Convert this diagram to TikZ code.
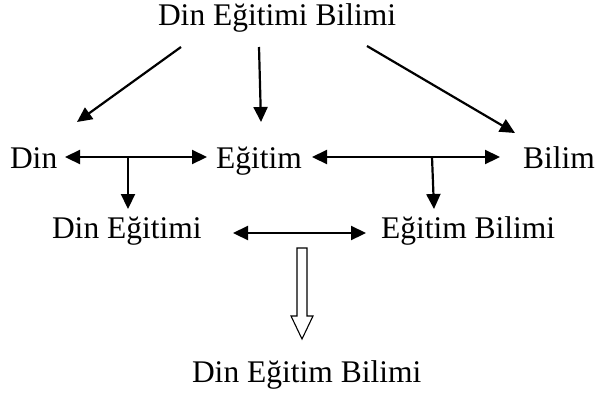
\documentclass[tikz,border=0pt]{standalone}
\usepackage{fontspec}
\setmainfont{Liberation Serif}
\usetikzlibrary{arrows.meta}
\begin{document}
\begin{tikzpicture}[x=1pt,y=-1pt,
  lbl/.style={anchor=base west,inner sep=0pt,outer sep=0pt,font=\fontsize{31.5}{36}\selectfont},
  arr/.style={line width=2.2pt,-{Triangle[length=15pt,width=14pt]}},
  darr/.style={line width=2.2pt,{Triangle[length=15pt,width=14pt]}-{Triangle[length=15pt,width=14pt]}},
  hollow/.style={draw=black,fill=white,line width=1.1pt,line join=miter}]
\useasboundingbox[fill=white] (0,0) rectangle (596,394);
% texts
\node[lbl] (top) at (158,25) {Din Eğitimi Bilimi};
\node[lbl] (din) at (10,168) {Din};
\node[lbl] (egitim) at (216,168) {Eğitim};
\node[lbl] (bilim) at (523,168) {Bilim};
\node[lbl] (dinegitimi) at (52,238) {Din Eğitimi};
\node[lbl] (egitimbilimi) at (381,238) {Eğitim Bilimi};
\node[lbl] (bottom) at (192,382) {Din Eğitim Bilimi};
% connector end points
\coordinate (t1) at (181,47); \coordinate (t1e) at (77,122);
\coordinate (t2) at (259,47); \coordinate (t2e) at (261,122);
\coordinate (t3) at (367,46); \coordinate (t3e) at (515,133);
\coordinate (de1) at (65,157); \coordinate (de2) at (207,157);
\coordinate (deb) at (128,157); \coordinate (debe) at (128,209);
\coordinate (eb1) at (312,157); \coordinate (eb2) at (500,157);
\coordinate (ebb) at (432,157); \coordinate (ebbe) at (434,209);
\coordinate (m1) at (233,233); \coordinate (m2) at (366,233);
% connectors
\draw[arr] (t1) -- (t1e);
\draw[arr] (t2) -- (t2e);
\draw[arr] (t3) -- (t3e);
\draw[darr] (de1) -- (de2);
\draw[arr] (deb) -- (debe);
\draw[darr] (eb1) -- (eb2);
\draw[arr] (ebb) -- (ebbe);
\draw[darr] (m1) -- (m2);
% hollow arrow
\draw[hollow] (297,248) -- (307,248) -- (307,316) -- (313,316) -- (302,339) -- (291,316) -- (297,316) -- cycle;
\end{tikzpicture}
\end{document}
